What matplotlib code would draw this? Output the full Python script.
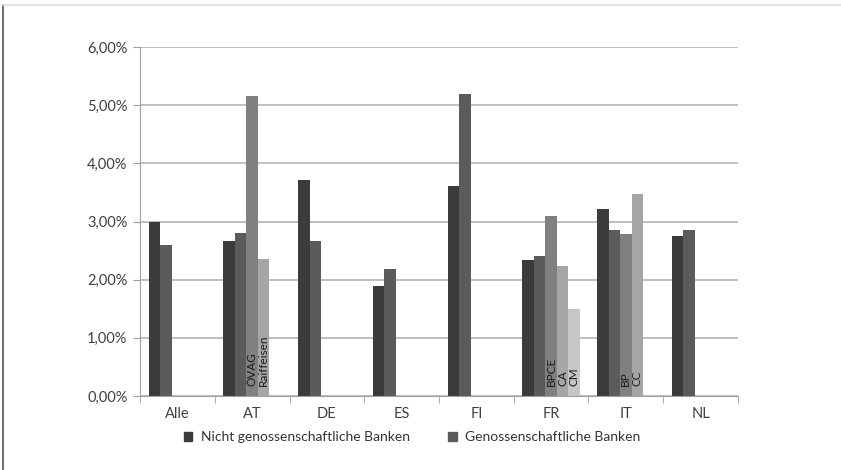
import numpy as np
import matplotlib.pyplot as plt
from matplotlib.lines import Line2D
from matplotlib.patches import Patch
from matplotlib.ticker import FuncFormatter, FixedLocator

plt.rcParams['font.family'] = ['Lato', 'DejaVu Sans']

countries = ['Alle', 'AT', 'DE', 'ES', 'FI', 'FR', 'IT', 'NL']

# one list per bar slot, None where a country has no bar in that slot
nicht_genossen = [3.00, 2.67, 3.71, 1.89, 3.61, 2.34, 3.21, 2.75]
genossen = [2.60, 2.81, 2.67, 2.19, 5.20, 2.41, 2.85, 2.85]
slot3 = [None, 5.16, None, None, None, 3.10, 2.79, None]
slot4 = [None, 2.35, None, None, None, 2.24, 3.48, None]
slot5 = [None, None, None, None, None, 1.50, None, None]

slot3_names = [None, 'ÖVAG', None, None, None, 'BPCE', 'BP', None]
slot4_names = [None, 'Raiffeisen', None, None, None, 'CA', 'CC', None]
slot5_names = [None, None, None, None, None, 'CM', None, None]

series = [nicht_genossen, genossen, slot3, slot4, slot5]
names = [None, None, slot3_names, slot4_names, slot5_names]
colors = ['#3b3b3b', '#5b5b5b', '#808080', '#a6a6a6', '#c6c6c6']

fig = plt.figure(figsize=(8.41, 4.70), dpi=100)
ax = fig.add_axes([0.1665, 0.1574, 0.711, 0.7426])

width = 0.154
x = np.arange(len(countries))
for j, (vals, col) in enumerate(zip(series, colors)):
    offs = (j - 2) * width
    for i, v in enumerate(vals):
        if v is None:
            continue
        ax.bar(x[i] + offs, v, width=width, color=col, zorder=2)
        if names[j] is not None and names[j][i]:
            ax.text(x[i] + offs, 0.17, names[j][i], rotation=90,
                    ha='center', va='bottom', fontsize=8.5, color='#1a1a1a',
                    zorder=3)

ax.set_xlim(-0.5, len(countries) - 0.5)
ax.set_ylim(0, 6)
ax.set_yticks(np.arange(0, 7, 1))
ax.yaxis.set_major_formatter(FuncFormatter(lambda v, p: f'{v:.2f}%'.replace('.', ',')))
ax.set_xticks(x)
ax.set_xticklabels(countries)
ax.xaxis.set_minor_locator(FixedLocator(np.arange(-0.5, len(countries), 1)))
ax.tick_params(axis='x', which='major', length=0, pad=8, labelsize=10.5, labelcolor='#404040')
ax.tick_params(axis='x', which='minor', length=5, color='#a0a0a0', direction='out')
ax.tick_params(axis='y', length=5, color='#a0a0a0', labelsize=10.5, labelcolor='#404040', pad=4)

ax.grid(axis='y', color='#b4b4b4', linewidth=1.2, zorder=0)
for s in ['top', 'right']:
    ax.spines[s].set_visible(False)
ax.spines['left'].set_color('#a0a0a0')
ax.spines['bottom'].set_color('#a0a0a0')

handles = [Patch(color=colors[0]), Patch(color=colors[1])]
fig.legend(handles, ['Nicht genossenschaftliche Banken', 'Genossenschaftliche Banken'],
           loc='center', bbox_to_anchor=(0.49, 0.07), ncol=2, frameon=False,
           fontsize=10, handlelength=0.6, handleheight=0.6, columnspacing=2.8,
           handletextpad=0.6, labelcolor='#333333')

# outer frame of the chart box
fig.add_artist(Line2D([0.004, 0.004], [0.0, 0.989], color='#707070', lw=1.5))
fig.add_artist(Line2D([0.004, 1.0], [0.989, 0.989], color='#dddddd', lw=1.2))

fig.savefig('out.png', dpi=100)
